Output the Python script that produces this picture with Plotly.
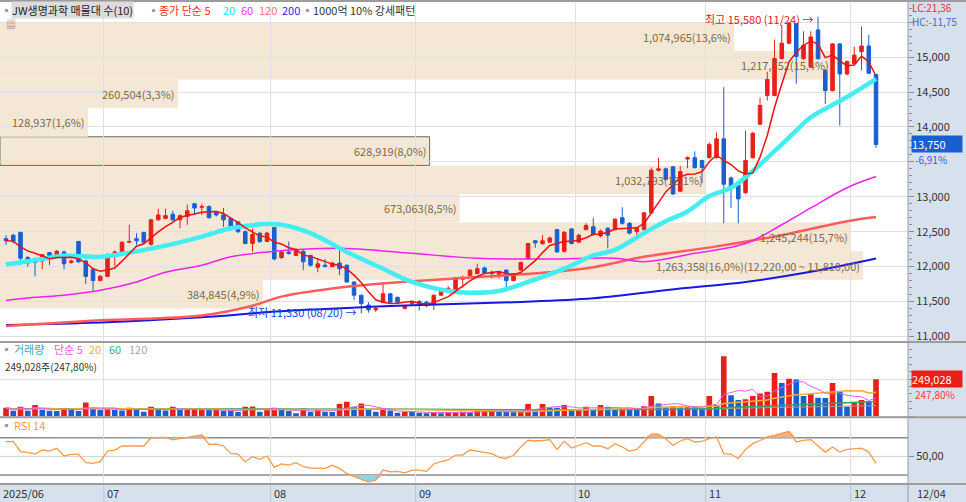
import numpy as np
import pandas as pd
import plotly.graph_objects as go

# %% 캔들 데이터 (2025/06/11 ~ 12/04, 121 거래일)
opens = [12400, 12450, 12490, 12130, 12110, 12080, 12200, 12160, 12210, 12060,
         12360, 12080, 11960, 11800, 11860, 12190, 12210, 12350, 12400, 12490,
         12320, 12670, 12690, 12750, 12670, 12720, 12900, 12850, 12860, 12780,
         12740, 12690, 12640, 12500, 12330, 12480, 12360, 12560, 12130, 12210,
         12160, 12220, 12160, 11990, 12020, 12000, 12050, 12020, 11780, 11590,
         11450, 11380, 11490, 11610, 11560, 11400, 11470, 11500, 11490, 11460,
         11590, 11650, 11640, 11820, 11870, 11900, 11980, 11920, 11890, 11950,
         11800, 11950, 12110, 12370, 12330, 12350, 12530, 12220, 12540, 12350,
         12530, 12570, 12440, 12550, 12530, 12700, 12620, 12500, 12530, 12770,
         13380, 13400, 13430, 13080, 13540, 13560, 13520, 13560, 13560, 13830,
         13270, 13170, 13060, 13560, 14040, 14450, 14450, 14980, 15200, 15480,
         14980, 14860, 15390, 14810, 14520, 15190, 14760, 14910, 15080, 15160,
         14750]
highs = [12450, 12470, 12500, 12150, 12130, 12180, 12210, 12240, 12230, 12100,
         12370, 12100, 11980, 11880, 12190, 12230, 12360, 12600, 12480, 12500,
         12680, 12830, 12830, 12800, 12750, 12890, 12910, 12900, 12880, 12800,
         12840, 12700, 12650, 12520, 12550, 12490, 12500, 12570, 12230, 12360,
         12260, 12240, 12170, 12120, 12110, 12070, 12290, 12030, 11790, 11600,
         11490, 11420, 11760, 11620, 11570, 11450, 11510, 11520, 11510, 11600,
         11680, 11720, 11850, 11870, 11960, 12040, 12000, 11940, 11940, 11960,
         11910, 12070, 12340, 12380, 12450, 12430, 12540, 12510, 12550, 12470,
         12620, 12700, 12530, 12560, 12690, 12850, 12640, 12560, 12780, 13420,
         13560, 13420, 13440, 13440, 13580, 13650, 13530, 13780, 13920, 14570,
         13290, 13180, 13950, 13930, 14420, 14790, 15250, 15460, 15500, 15490,
         15370, 15370, 15580, 14830, 15200, 15200, 14950, 15150, 15440, 15320,
         14760]
lows = [12310, 12330, 12020, 12000, 11860, 11960, 12020, 12150, 11960, 12040,
        12050, 11750, 11660, 11790, 11850, 12000, 12200, 12340, 12310, 12330,
        12300, 12660, 12680, 12650, 12550, 12600, 12740, 12740, 12690, 12720,
        12570, 12520, 12480, 12320, 12210, 12340, 12350, 12090, 12110, 12170,
        12150, 11950, 12000, 11920, 11990, 11990, 11880, 11770, 11520, 11330,
        11340, 11350, 11480, 11480, 11470, 11390, 11450, 11370, 11420, 11380,
        11580, 11640, 11630, 11700, 11860, 11890, 11900, 11830, 11830, 11700,
        11790, 11940, 12100, 12270, 12310, 12340, 12200, 12200, 12320, 12340,
        12520, 12440, 12420, 12260, 12520, 12600, 12460, 12380, 12520, 12760,
        13360, 13230, 13030, 13070, 13410, 13400, 13200, 13550, 13550, 12620,
        12840, 12620, 13040, 13550, 14030, 14380, 14440, 14970, 15190, 14620,
        14960, 14850, 14960, 14330, 14510, 14020, 14740, 14890, 14810, 14760,
        13700]
closes = [12370, 12360, 12120, 12050, 12060, 12170, 12160, 12220, 12040, 12080,
          12070, 11860, 11800, 11860, 12170, 12210, 12350, 12360, 12370, 12350,
          12670, 12740, 12730, 12670, 12730, 12800, 12840, 12860, 12700, 12740,
          12670, 12540, 12500, 12330, 12460, 12360, 12480, 12110, 12210, 12190,
          12240, 12070, 12020, 12040, 12000, 12050, 11970, 11780, 11590, 11470,
          11380, 11400, 11610, 11490, 11490, 11430, 11490, 11470, 11440, 11590,
          11660, 11690, 11840, 11840, 11950, 11970, 11910, 11900, 11920, 11800,
          11900, 12060, 12330, 12340, 12370, 12410, 12210, 12490, 12330, 12450,
          12590, 12460, 12510, 12450, 12680, 12620, 12480, 12550, 12770, 13380,
          13400, 13250, 13040, 13360, 13560, 13420, 13420, 13750, 13830, 13180,
          13130, 12970, 13520, 13910, 14310, 14680, 14980, 15200, 15490, 15010,
          15170, 15290, 14980, 14520, 15190, 14760, 14940, 15030, 15160, 14770,
          13750]
volumes = [56000, 36000, 63000, 36000, 74000, 40000, 36000, 34000, 52000, 50000,
           34000, 92000, 52000, 40000, 45000, 40000, 38000, 56000, 40000, 29000,
           63000, 40000, 38000, 63000, 40000, 41000, 42000, 43000, 40000, 42000,
           36000, 34000, 27000, 63000, 64000, 29000, 40000, 56000, 40000, 34000,
           18000, 52000, 29000, 40000, 29000, 28000, 81000, 96000, 63000, 85000,
           40000, 29000, 40000, 38000, 22000, 29000, 28000, 22000, 18000, 22000,
           18000, 22000, 23000, 29000, 28000, 34000, 36000, 37000, 30000, 29000,
           28000, 34000, 81000, 45000, 81000, 58000, 56000, 74000, 40000, 45000,
           63000, 40000, 74000, 63000, 45000, 52000, 45000, 40000, 67000, 135000,
           85000, 63000, 67000, 58000, 63000, 62000, 52000, 135000, 74000, 406000,
           141000, 108000, 114000, 135000, 153000, 164000, 292000, 224000, 253000, 247000,
           135000, 148000, 123000, 122000, 224000, 164000, 63000, 90000, 108000, 100496,
           249028]
rsi14 = [65.7, 65.7, 55.0, 54.3, 52.5, 56.8, 55.7, 58.6, 50.4, 52.2,
         52.2, 43.2, 42.5, 44.3, 55.7, 56.8, 61.1, 61.1, 61.1, 61.1,
         70.0, 70.0, 70.4, 67.6, 69.3, 70.4, 71.8, 72.9, 62.9, 63.2,
         61.1, 53.2, 52.5, 44.3, 49.7, 46.8, 50.4, 38.2, 41.8, 40.7,
         43.2, 38.9, 37.5, 37.1, 37.1, 40.4, 37.1, 31.7, 28.1, 25.3,
         22.7, 24.5, 35.3, 33.5, 33.9, 32.4, 35.3, 35.3, 33.9, 41.8,
         44.3, 46.1, 51.4, 51.4, 56.8, 55.5, 53.5, 53.0, 49.0, 47.7,
         51.2, 60.0, 67.3, 66.5, 67.0, 68.0, 57.5, 66.1, 58.9, 62.0,
         64.7, 61.1, 61.1, 58.2, 63.5, 60.0, 55.7, 57.5, 65.4, 73.7,
         73.7, 69.0, 61.8, 66.5, 69.0, 65.4, 66.1, 69.0, 70.8, 53.0,
         52.2, 47.7, 57.5, 63.6, 67.0, 71.0, 72.6, 75.0, 76.9, 65.4,
         67.2, 68.0, 61.8, 54.6, 60.0, 54.6, 57.5, 58.2, 58.9, 54.6,
         42.5]

# 이동평균선
ma20_idx = [0, 4, 8, 13, 17, 22, 27, 31, 36, 38, 42, 47, 52, 56, 61, 64, 68, 72, 77, 81,
            84, 88, 91, 94, 97, 100, 103, 107, 109, 111, 116, 120]
ma20_val = [12030, 12090, 12155, 12140, 12200, 12300, 12430, 12550, 12610, 12600, 12480,
            12210, 11970, 11780, 11650, 11625, 11650, 11780, 11970, 12160, 12240, 12480,
            12650, 12790, 13010, 13130, 13370, 13750, 13950, 14140, 14430, 14690]
ma60_idx = [0, 4, 8, 13, 18, 22, 27, 31, 36, 41, 47, 56, 65, 75, 84, 88, 95, 102, 107, 111, 116, 120]
ma60_val = [11515, 11560, 11590, 11660, 11780, 11920, 12020, 12140, 12210, 12250, 12260,
            12190, 12120, 12110, 12120, 12070, 12190, 12330, 12600, 12840, 13130, 13290]
ma120_idx = [0, 13, 27, 34, 38, 47, 56, 65, 75, 81, 88, 98, 107, 116, 120]
ma120_val = [11150, 11230, 11300, 11440, 11570, 11710, 11790, 11850, 11920, 11990, 12140,
             12290, 12450, 12650, 12710]
ma200_idx = [0, 13, 27, 38, 56, 70, 81, 93, 102, 111, 120]
ma200_val = [11165, 11200, 11275, 11360, 11445, 11490, 11545, 11685, 11780, 11925, 12115]

# 매물대 (아래 -> 위)
band_edges = [11400, 11810, 12220, 12630, 13040, 13450, 13860, 14270, 14680, 15090, 15500]
band_volumes = [384845, 1263358, 1245244, 673063, 1032793, 628919, 128937, 260504, 1217552, 1074965]

price_ticks = [11000, 11500, 12000, 12500, 13000, 13500, 14000, 14500, 15000, 15500]
hidden_ticks = [13500, 15500]  # 현재가 / HC 표시에 가려진 눈금

month_starts = [14, 37, 57, 79, 97, 117]
month_labels = ["07", "08", "09", "10", "11", "12"]
first_label = "2025/06"
last_label = "12/04"
high_date = "11/24"
low_date = "08/20"

# %% 스타일
W, H = 966, 502
FONT = "Noto Sans CJK KR"
RED = "#e8201a"
BLUE = "#1a5fcf"
TAN = "#f5e7d5"
AXBG = "#d6e1ed"
GRID = "#e0e0e0"


def px(x):
    return x / W


def py(y):
    return 1 - y / H


idx = np.arange(len(closes))
close_s = pd.Series(closes, dtype=float)
vol_s = pd.Series(volumes, dtype=float)
ma5 = close_s.rolling(5, min_periods=1).mean()
vol_colors = [RED] + [RED if volumes[i] > volumes[i - 1] else BLUE for i in range(1, len(volumes))]
rsi = np.array(rsi14)

fig = go.Figure()

# 보조 축 (매물대)
fig.add_trace(go.Scatter(x=[], y=[], xaxis="x4", yaxis="y", showlegend=False))

# 이동평균선
for xs, ys, color, width in [
    (ma200_idx, ma200_val, "#1818e0", 2),
    (ma120_idx, ma120_val, "#ff5c5c", 2.5),
    (ma60_idx, ma60_val, "#f020f0", 1.5),
    (ma20_idx, ma20_val, "#44eef0", 4.5),
]:
    fig.add_trace(go.Scatter(x=xs, y=ys, mode="lines", line=dict(color=color, width=width, shape="spline"),
                             xaxis="x", yaxis="y", showlegend=False, hoverinfo="skip"))

fig.add_trace(go.Candlestick(
    x=idx, open=opens, high=highs, low=lows, close=closes,
    increasing=dict(line=dict(color=RED, width=1), fillcolor=RED),
    decreasing=dict(line=dict(color=BLUE, width=1), fillcolor=BLUE),
    whiskerwidth=0, xaxis="x", yaxis="y", showlegend=False,
))
fig.add_trace(go.Scatter(x=idx, y=ma5, mode="lines", line=dict(color="#f01010", width=1.5),
                         xaxis="x", yaxis="y", showlegend=False, hoverinfo="skip"))

# 거래량
fig.add_trace(go.Bar(x=idx, y=volumes, marker=dict(color=vol_colors, line=dict(width=0)), width=0.78,
                     xaxis="x2", yaxis="y2", showlegend=False))
for n, color, width in [(120, "#a0a0a0", 1), (60, "#30a860", 1.5), (20, "#f0b030", 1.5), (5, "#e060e0", 1)]:
    fig.add_trace(go.Scatter(x=idx, y=vol_s.rolling(n, min_periods=1).mean(), mode="lines",
                             line=dict(color=color, width=width), xaxis="x2", yaxis="y2",
                             showlegend=False, hoverinfo="skip"))

# RSI
fig.add_trace(go.Scatter(x=idx, y=np.full(len(rsi), 70.0), mode="lines", line=dict(width=0),
                         xaxis="x3", yaxis="y3", showlegend=False, hoverinfo="skip"))
fig.add_trace(go.Scatter(x=idx, y=np.maximum(rsi, 70), mode="lines", line=dict(width=0), fill="tonexty",
                         fillcolor="#f4b088", xaxis="x3", yaxis="y3", showlegend=False, hoverinfo="skip"))
fig.add_trace(go.Scatter(x=idx, y=np.full(len(rsi), 30.0), mode="lines", line=dict(width=0),
                         xaxis="x3", yaxis="y3", showlegend=False, hoverinfo="skip"))
fig.add_trace(go.Scatter(x=idx, y=np.minimum(rsi, 30), mode="lines", line=dict(width=0), fill="tonexty",
                         fillcolor="#8ad4ee", xaxis="x3", yaxis="y3", showlegend=False, hoverinfo="skip"))
fig.add_trace(go.Scatter(x=idx, y=rsi, mode="lines", line=dict(color="#ff9a4a", width=1.3),
                         xaxis="x3", yaxis="y3", showlegend=False, hoverinfo="skip"))

# %% 도형
shapes = []
shapes.append(dict(type="rect", xref="paper", yref="paper", x0=px(908), x1=1, y0=0, y1=1,
                   fillcolor=AXBG, line=dict(width=0), layer="below"))
shapes.append(dict(type="rect", xref="paper", yref="paper", x0=0, x1=px(908), y0=0, y1=py(484),
                   fillcolor=AXBG, line=dict(width=0), layer="below"))
last_close = closes[-1]
for k, v in enumerate(band_volumes):
    lo, hi = band_edges[k], band_edges[k + 1]
    cur = lo <= last_close < hi
    shapes.append(dict(type="rect", xref="x4", yref="y", x0=0, x1=v, y0=lo, y1=hi, fillcolor=TAN,
                       line=dict(color="#6a6a6a", width=1) if cur else dict(width=0), layer="below"))
for lvl, color, width in [(70, "#8c8c8c", 1.5), (50, "#d0d0d0", 1), (30, "#8c8c8c", 1.5)]:
    shapes.append(dict(type="line", xref="x3 domain", yref="y3", x0=0, x1=1, y0=lvl, y1=lvl,
                       line=dict(color=color, width=width), layer="below"))
for m in month_starts:
    shapes.append(dict(type="line", xref="x3", yref="paper", x0=m - 0.5, x1=m - 0.5, y0=0, y1=py(484),
                       line=dict(color="#b8c4d2", width=1)))
for yy in [1, 342, 417.3, 484]:
    shapes.append(dict(type="line", xref="paper", yref="paper", x0=0, x1=1, y0=py(yy), y1=py(yy),
                       line=dict(color="#9c9c9c", width=2)))
shapes.append(dict(type="line", xref="paper", yref="paper", x0=px(908), x1=px(908), y0=0, y1=1,
                   line=dict(color="#9c9c9c", width=1)))

# %% 주석
ann = []


def label(x, y, text, color="#333333", size=11, **kw):
    d = dict(xref="paper", yref="paper", x=px(x), y=py(y), text=text, showarrow=False,
             xanchor="left", yanchor="middle", font=dict(family=FONT, size=size, color=color))
    d.update(kw)
    ann.append(d)


def pct_txt(p):
    return f"{p:.1f}".replace(".", ",")


total = sum(band_volumes)
vmax = max(band_volumes)
for k, v in enumerate(band_volumes):
    lo, hi = band_edges[k], band_edges[k + 1]
    txt = f"{v:,}({pct_txt(v / total * 100)}%)"
    if v == vmax:
        txt += f"({hi:,},00 ~ {lo:,},00)"
    ann.append(dict(xref="x4", yref="y", x=v, y=(lo + hi) / 2, text=txt, showarrow=False,
                    xanchor="right", yanchor="middle", xshift=-1,
                    font=dict(family=FONT, size=11, color="#7c6a4a")))

# 상단 범례
label(-1, 10, "▪", "#9a9a9a")
label(11, 10, "JW생명과학 매물대 수(10)", "#222222", bgcolor="#dcdcdc", borderpad=0)
label(146, 10, "▪", "#9a9a9a")
label(157, 10, "종가 단순 5", "#ff2a2a")
label(221, 10, "20", "#22dfee")
label(239, 10, "60", "#f030f0")
label(257, 10, "120", "#ff7070")
label(280, 10, "200", "#2a2ae8")
label(300, 10, "▪", "#9a9a9a")
label(311, 10, "1000억 10% 강세패턴", "#333333")
label(4, 24, "▦", "#8a8a8a", size=10)
label(910, 7.5, "LC:21,36", "#e03030", size=10)
label(910, 22, "HC:-11,75", "#3a68d8", size=10)

# 최고 / 최저
hi_i = int(np.argmax(highs))
lo_i = int(np.argmin(lows))
ann.append(dict(xref="x", yref="y", x=hi_i, y=highs[hi_i], text=f"최고 {highs[hi_i]:,} ({high_date}) →",
                showarrow=False, xanchor="right", yanchor="middle", xshift=-3, yshift=-2,
                font=dict(family=FONT, size=11, color="#e8201a")))
ann.append(dict(xref="x", yref="y", x=lo_i, y=lows[lo_i], text=f"최저 {lows[lo_i]:,} ({low_date}) →",
                showarrow=False, xanchor="right", yanchor="middle", xshift=-3, yshift=1,
                font=dict(family=FONT, size=11, color="#2040e0")))

# 현재가
chg = (closes[-1] / closes[-2] - 1) * 100
ann.append(dict(xref="paper", yref="y", x=px(911), y=closes[-1], text=f"{closes[-1]:,}", showarrow=False,
                xanchor="left", yanchor="middle", align="left", width=50, bgcolor="#1a5fcf", borderpad=0,
                font=dict(family=FONT, size=11, color="white")))
ann.append(dict(xref="paper", yref="y", x=px(913), y=closes[-1], yshift=-15, text=f"{chg:.2f}%".replace(".", ","),
                showarrow=False, xanchor="left", yanchor="middle",
                font=dict(family=FONT, size=10, color="#2d62e0")))

# 거래량 범례
vratio = volumes[-1] / volumes[-2] * 100
label(-1, 349, "▪", "#9a9a9a")
label(12, 349, "거래량", "#3aa8a8")
label(52, 349, "단순 5", "#e860e0")
label(87, 349, "20", "#f0b040")
label(107, 349, "60", "#40b070")
label(127, 349, "120", "#a8a8a8")
label(3, 366, f"{volumes[-1]:,}주({vratio:.2f}%)".replace(".", ","), "#333333", size=10)
ann.append(dict(xref="paper", yref="y2", x=px(911), y=volumes[-1], text=f"{volumes[-1]:,}", showarrow=False,
                xanchor="left", yanchor="middle", align="left", width=50, bgcolor=RED, borderpad=0,
                font=dict(family=FONT, size=11, color="white")))
ann.append(dict(xref="paper", yref="y2", x=px(913), y=volumes[-1], yshift=-15,
                text=f"{vratio:.2f}%".replace(".", ","), showarrow=False, xanchor="left", yanchor="middle",
                font=dict(family=FONT, size=10, color="#ff3b3b")))

# RSI 범례
label(-1, 425, "▪", "#9a9a9a")
label(12, 425, "RSI 14", "#ff9a4a")

# 날짜 축
label(1, 493, first_label, "#333333")
for m, t in zip(month_starts, month_labels):
    ann.append(dict(xref="x3", yref="paper", x=m - 0.5, y=py(493), text=t, showarrow=False,
                    xanchor="left", yanchor="middle", xshift=1,
                    font=dict(family=FONT, size=11, color="#333333")))
label(915, 493, last_label, "#333333")

# %% 레이아웃
xdom = [0, px(908)]
xr = [-0.83, 124.41]
xcommon = dict(domain=xdom, range=xr, tickvals=[m - 0.5 for m in month_starts], showticklabels=False,
               showgrid=True, gridcolor=GRID, zeroline=False, ticks="", fixedrange=True)
ycommon = dict(side="right", zeroline=False, tickfont=dict(family=FONT, size=11, color="#333333"),
               ticks="outside", tickcolor="#8a8a8a", ticklen=5, gridcolor=GRID, fixedrange=True)

fig.update_layout(
    width=W, height=H, autosize=False,
    margin=dict(l=0, r=0, t=0, b=0),
    paper_bgcolor="white", plot_bgcolor="white",
    font=dict(family=FONT),
    showlegend=False,
    xaxis=dict(**xcommon, anchor="y", rangeslider=dict(visible=False)),
    xaxis2=dict(**xcommon, anchor="y2", matches="x"),
    xaxis3=dict(**xcommon, anchor="y3", matches="x"),
    xaxis4=dict(overlaying="x", anchor="y", range=[0, vmax * 908 / 863], visible=False),
    yaxis=dict(**ycommon, anchor="x", domain=[py(342), py(3)], range=[10920, 15776],
               tickmode="array", tickvals=price_ticks,
               ticktext=["" if t in hidden_ticks else f"{t:,}" for t in price_ticks], showgrid=True,
               minor=dict(tickmode="linear", tick0=0, dtick=100, ticks="outside", ticklen=3,
                          tickcolor="#8a8a8a", showgrid=False)),
    yaxis2=dict(**ycommon, anchor="x2", domain=[py(417.3), py(342)], range=[-8800, 502000], tick0=0,
                dtick=250000, showticklabels=False, showgrid=True,
                minor=dict(dtick=50000, ticks="outside", ticklen=3, tickcolor="#8a8a8a", showgrid=False)),
    yaxis3=dict(**ycommon, anchor="x3", domain=[py(484), py(417.3)], range=[20.35, 91.9], tickvals=[50],
                ticktext=["50,00"], showgrid=False),
    shapes=shapes,
    annotations=ann,
)

# 페이지 기본 여백 제거
fig.write_html("out.html", config={"displayModeBar": False},
               post_script="document.body.style.margin='0';document.body.style.overflow='hidden';")
